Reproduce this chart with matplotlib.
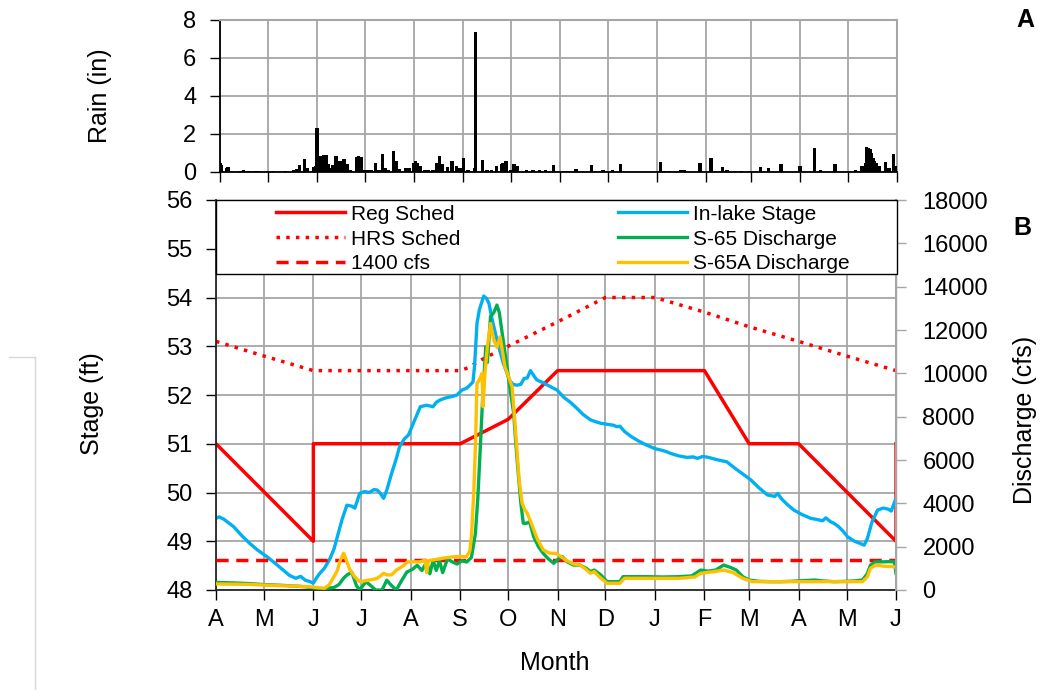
import matplotlib
matplotlib.use("Agg")
import matplotlib.pyplot as plt
from matplotlib.lines import Line2D
from matplotlib.patches import Rectangle

plt.rcParams['font.family'] = ['Liberation Sans', 'DejaVu Sans']

# x values are days counted from 1 April; month starts for the axis
month_starts = [0, 30, 61, 91, 122, 153, 183, 214, 244, 275, 306, 334, 365, 395, 426]
month_labels = ['A', 'M', 'J', 'J', 'A', 'S', 'O', 'N', 'D', 'J', 'F', 'M', 'A', 'M', 'J']

# daily rainfall (in)
rain_day = [0, 1, 4, 5, 13, 15, 18, 22, 24, 30, 33, 41, 46, 48, 50, 53, 55, 59, 60, 61,
            62, 63, 64, 65, 66, 67, 68, 70, 71, 73, 74, 75, 76, 77, 78, 80, 82, 86, 87, 88,
            89, 91, 93, 95, 98, 100, 102, 104, 106, 109, 111, 113, 117, 119, 122, 123, 124, 126, 129, 131,
            134, 136, 138, 140, 143, 146, 149, 151, 153, 156, 160, 161, 165, 168, 171, 174, 177, 178, 180, 183,
            185, 187, 193, 197, 201, 205, 210, 216, 218, 224, 234, 241, 247, 252, 277, 280, 283, 290, 292, 302,
            309, 316, 319, 324, 328, 333, 340, 345, 353, 365, 374, 378, 387, 400, 404, 406, 407, 408, 409, 410,
            411, 412, 413, 415, 419, 421, 424, 425]
rain_in = [0.45, 0.35, 0.2, 0.25, 0.07, 0.08, 0.07, 0.07, 0.06, 0.07, 0.07, 0.05, 0.12, 0.15, 0.35, 0.7, 0.2, 0.25, 0.3, 2.3,
           0.5, 0.85, 0.75, 0.88, 0.6, 0.9, 0.4, 0.2, 0.35, 0.85, 0.55, 0.6, 0.45, 0.6, 0.7, 0.4, 0.1, 0.8, 0.82, 0.75,
           0.8, 0.1, 0.08, 0.1, 0.5, 0.1, 0.93, 0.2, 0.1, 1.1, 0.58, 0.15, 0.2, 0.2, 0.5, 0.56, 0.45, 0.3, 0.1, 0.08,
           0.1, 0.45, 0.86, 0.4, 0.25, 0.56, 0.3, 0.2, 0.72, 0.1, 0.2, 7.35, 0.65, 0.1, 0.1, 0.3, 0.4, 0.45, 0.58, 0.1,
           0.4, 0.3, 0.1, 0.1, 0.1, 0.1, 0.39, 0.07, 0.07, 0.15, 0.35, 0.1, 0.1, 0.44, 0.53, 0.07, 0.07, 0.1, 0.1, 0.47,
           0.74, 0.25, 0.1, 0.07, 0.07, 0.07, 0.25, 0.2, 0.4, 0.3, 1.27, 0.1, 0.4, 0.1, 0.3, 0.5, 1.3, 1.25, 1.2, 1.0,
           0.75, 0.6, 0.5, 0.3, 0.55, 0.2, 0.97, 0.3]

# regulation schedules (ft)
reg_day = [0, 61, 61, 153, 183, 214, 306, 334, 365, 426, 426]
reg_ft = [51.0, 49.0, 51.0, 51.0, 51.5, 52.5, 52.5, 51.0, 51.0, 49.0, 51.0]
hrs_day = [0, 30, 61, 153, 158, 165, 172, 183, 214, 244, 275, 306, 334, 365, 395, 426]
hrs_ft = [53.1, 52.8, 52.5, 52.5, 52.56, 52.7, 52.82, 53.0, 53.5, 54.0, 54.0, 53.7, 53.4, 53.1, 52.8, 52.5]

# in-lake stage (ft)
stage_day = [0, 2, 5, 11, 16, 21, 26, 32, 37, 42, 46, 50, 53, 56, 59, 61, 63, 65, 68, 71.5,
             74, 76, 79, 82, 85, 87, 90, 93, 96, 99, 101, 103, 105, 107, 110, 113, 115, 118, 120.6, 124,
             128, 132, 136, 138, 140.5, 143, 145, 148, 151, 154, 157, 159, 161, 162, 163.5, 165, 167.7, 169.5, 171, 173,
             175, 177.5, 180, 184, 186, 188.6, 191, 193, 195, 197, 199, 201, 205, 209, 213.7, 218, 222, 226, 230, 234.6,
             238, 241, 245, 249, 251, 253, 256, 260, 265, 270, 275, 280, 282, 285, 290, 295, 299, 301.6, 305, 308.6,
             313, 317, 320, 325, 330, 335, 340, 345.5, 350, 352, 354, 358, 362, 367, 372.6, 376, 380, 382, 385, 387,
             390, 393, 395.7, 400, 404, 406, 408, 411, 414.5, 418, 421, 423, 424.5, 426]
stage_ft = [49.47, 49.5, 49.45, 49.3, 49.12, 48.96, 48.82, 48.68, 48.55, 48.41, 48.3, 48.24, 48.28, 48.2, 48.17, 48.14, 48.25, 48.34, 48.45, 48.65,
            48.85, 49.09, 49.45, 49.74, 49.72, 49.68, 49.98, 50.02, 50.0, 50.06, 50.05, 49.98, 49.88, 50.05, 50.39, 50.7, 50.94, 51.1, 51.18, 51.45,
            51.76, 51.79, 51.76, 51.85, 51.9, 51.93, 51.95, 51.97, 52.0, 52.1, 52.14, 52.2, 52.27, 52.6, 53.47, 53.75, 54.03, 53.98, 53.88, 53.55,
            53.27, 52.95, 52.65, 52.3, 52.22, 52.2, 52.22, 52.34, 52.35, 52.5, 52.4, 52.31, 52.25, 52.18, 52.1, 51.95, 51.85, 51.73, 51.6, 51.49,
            51.45, 51.42, 51.4, 51.38, 51.35, 51.36, 51.25, 51.15, 51.05, 50.97, 50.9, 50.86, 50.84, 50.8, 50.75, 50.72, 50.73, 50.7, 50.74, 50.72,
            50.68, 50.65, 50.63, 50.5, 50.38, 50.26, 50.1, 49.95, 49.92, 49.98, 49.88, 49.75, 49.64, 49.55, 49.47, 49.45, 49.42, 49.48, 49.4, 49.37,
            49.3, 49.2, 49.09, 49.0, 48.95, 48.92, 49.05, 49.4, 49.64, 49.68, 49.66, 49.62, 49.75, 49.88]

# S-65 discharge (cfs)
s65_day = [0, 10, 20, 30, 40, 50, 56, 61, 66, 70, 74, 77, 80, 82, 85, 88, 90, 92, 94, 97,
           100, 104, 107, 110, 113, 116, 119.6, 123, 126, 129, 132, 134, 136, 138, 140, 142, 145, 148, 151, 154,
           157, 160, 162.5, 164, 165.6, 167, 169, 170, 172, 174, 176, 177.5, 179, 182, 184, 186.5, 188, 189.7, 191, 192.5,
           194.5, 196.5, 199, 202, 205, 208, 211.6, 214, 217, 220, 224, 228, 232, 234.6, 237, 241, 245, 249, 253, 255,
           262, 270, 280, 290, 298, 303.6, 308, 313, 318, 322, 326, 330, 334, 340, 347, 354, 360, 365, 370, 375,
           380, 387, 395, 400, 405, 408, 410, 413, 418, 422, 425, 426]
s65_cfs = [350, 330, 300, 250, 220, 180, 150, 100, 50, 80, 120, 250, 550, 690, 830, 200, 0, 200, 380, 200,
           0, 0, 450, 200, 0, 400, 830, 950, 1140, 900, 1290, 750, 1370, 900, 1350, 800, 1430, 1300, 1200, 1350,
           1290, 1500, 2600, 4200, 6600, 8800, 11230, 10500, 12620, 12800, 13150, 12800, 12000, 10460, 9400, 8150, 6600, 5080, 4000, 3080,
           3080, 3150, 2460, 2000, 1690, 1450, 1230, 1400, 1540, 1300, 1150, 1150, 1000, 850, 920, 700, 385, 385, 385, 615,
           615, 615, 600, 615, 650, 920, 870, 920, 1150, 1050, 920, 615, 460, 400, 385, 385, 400, 420, 440, 460,
           420, 385, 400, 420, 460, 750, 1150, 1300, 1300, 1310, 1300, 770]

# S-65A discharge (cfs)
s65a_day = [0, 10, 20, 30, 40, 50, 58, 63, 68, 71, 73, 76, 78, 80, 82, 84, 87, 90, 93, 96,
            99, 101, 103, 105, 107, 110, 113, 117, 120, 124, 128, 131, 132, 133, 137, 141, 145, 150, 154, 157,
            159, 160, 161.5, 162.5, 163.5, 165, 166.7, 167.3, 168.5, 170, 172, 174, 176, 178, 181, 183.5, 185.5, 187, 188.7, 190,
            191.8, 193.5, 195, 198, 201, 205, 209, 213, 216, 219, 224, 228, 231, 234.6, 237, 240, 245, 253, 256, 270,
            290, 300, 303.6, 312, 318, 324, 330, 336, 345, 355, 365, 375, 385, 395, 405, 408, 410, 413, 418, 424,
            426]
s65a_cfs = [280, 270, 260, 230, 200, 180, 150, 120, 80, 250, 500, 900, 1400, 1700, 1300, 920, 600, 385, 420, 460,
            500, 540, 650, 770, 700, 700, 920, 1100, 1300, 1300, 1300, 1380, 800, 1350, 1400, 1450, 1500, 1540, 1540, 1540,
            1800, 2460, 4500, 6610, 9540, 9700, 10000, 8460, 10000, 11230, 12300, 11540, 11200, 11690, 10300, 9800, 9380, 8000, 6300, 5000,
            4000, 3700, 3540, 3000, 2400, 1850, 1700, 1690, 1550, 1380, 1200, 1150, 1000, 770, 850, 615, 310, 310, 540, 540,
            540, 600, 770, 850, 920, 800, 540, 385, 385, 385, 385, 385, 385, 385, 385, 600, 1000, 1150, 1100, 1080,
            1050]

threshold_cfs = 1400

RED = '#FF0000'
BLUE = '#00B0F0'
GREEN = '#00B050'
GOLD = '#FFC000'
GRID = '#A6A6A6'

fig = plt.figure(figsize=(10.43, 6.9), dpi=100)
W, H = 1043, 690

def px_axes(l, t, r, b):
    return [l / W, 1 - b / H, (r - l) / W, (b - t) / H]

# ---- panel A: rainfall
axr = fig.add_axes(px_axes(220, 20, 897, 172))
axr.bar(rain_day, rain_in, width=2.0, color='black', align='center', zorder=3)
axr.set_xlim(0, 426)
axr.set_ylim(0, 8)
axr.set_yticks([0, 2, 4, 6, 8])
axr.set_xticks(month_starts)
axr.set_xticklabels([])
axr.grid(True, color=GRID, linewidth=1.3, zorder=0)
axr.set_axisbelow(True)
axr.tick_params(axis='y', direction='out', length=7, width=1, labelsize=17, pad=10)
axr.tick_params(axis='x', direction='out', length=7, width=1)
for s in ['top', 'right']:
    axr.spines[s].set_color(GRID)
    axr.spines[s].set_linewidth(1.5)
for s in ['left', 'bottom']:
    axr.spines[s].set_color('black')
    axr.spines[s].set_linewidth(1.3)

# ---- panel B: stage and discharge
ax = fig.add_axes(px_axes(216, 200, 896, 590))
l_reg, = ax.plot(reg_day, reg_ft, color=RED, lw=2.5, label='Reg Sched')
l_hrs, = ax.plot(hrs_day, hrs_ft, color=RED, lw=2.5, linestyle=(0, (1, 1.8)), label='HRS Sched')
l_stage, = ax.plot(stage_day, stage_ft, color=BLUE, lw=2.4, label='In-lake Stage')
ax.set_xlim(0, 426)
ax.set_ylim(48, 56)
ax.set_yticks(range(48, 57))
ax.set_xticks(month_starts)
ax.set_xticklabels(month_labels)
ax.grid(True, color=GRID, linewidth=1.3, zorder=0)
ax.set_axisbelow(True)
ax.tick_params(axis='y', direction='out', length=7, width=1, labelsize=17, pad=10)
ax.tick_params(axis='x', direction='out', length=7, width=1, labelsize=17, pad=7)
for s in ['left', 'bottom']:
    ax.spines[s].set_color('#262626')
    ax.spines[s].set_linewidth(1.3)

ax2 = ax.twinx()
l_thr = ax2.axhline(threshold_cfs, color=RED, lw=2.5, linestyle=(0, (3.5, 2.2)), label='1400 cfs')
l_s65, = ax2.plot(s65_day, s65_cfs, color=GREEN, lw=2.4, label='S-65 Discharge')
l_s65a, = ax2.plot(s65a_day, s65a_cfs, color=GOLD, lw=2.4, label='S-65A Discharge')
ax2.set_ylim(0, 18000)
ax2.set_yticks(range(0, 18001, 2000))
ax2.tick_params(axis='y', direction='out', length=7, width=1, labelsize=17, pad=12, color=GRID)
ax2.spines['right'].set_color(GRID)
ax2.spines['right'].set_linewidth(1.5)
for s in ['left', 'bottom', 'top']:
    ax2.spines[s].set_visible(False)

# legend box across the top of panel B
box = Rectangle((0, 0.81), 1.0015, 0.19, transform=ax2.transAxes, facecolor='white',
                edgecolor='black', linewidth=1.0, zorder=5, clip_on=False)
ax2.add_patch(box)
leg_kw = dict(frameon=False, fontsize=15, handlelength=3.3, handletextpad=0.3,
              labelspacing=0.28, borderpad=0, borderaxespad=0, loc='upper left')
leg1 = ax2.legend(handles=[l_reg, l_hrs, l_thr], bbox_to_anchor=(0.088, 0.988), **leg_kw)
leg1.set_zorder(6)
ax2.add_artist(leg1)
leg2 = ax2.legend(handles=[l_stage, l_s65, l_s65a], bbox_to_anchor=(0.591, 0.988), **leg_kw)
leg2.set_zorder(6)

# labels
fig.text(100 / W, 1 - 96 / H, 'Rain (in)', rotation=90, ha='center', va='center', fontsize=18)
fig.text(92 / W, 1 - 404 / H, 'Stage (ft)', rotation=90, ha='center', va='center', fontsize=18)
fig.text(1025 / W, 1 - 420 / H, 'Discharge (cfs)', rotation=90, ha='center', va='center', fontsize=18)
fig.text(555 / W, 1 - 663 / H, 'Month', ha='center', va='center', fontsize=18)
fig.text(1025 / W, 1 - 20 / H, 'A', ha='center', va='center', fontsize=18, fontweight='bold')
fig.text(1022 / W, 1 - 228 / H, 'B', ha='center', va='center', fontsize=18, fontweight='bold')

# faint frame edge at left of the original image
fig.add_artist(Line2D([35 / W, 35 / W], [1 - 357 / H, 0], color='#D9D9D9', lw=1))
fig.add_artist(Line2D([9 / W, 35 / W], [1 - 357 / H, 1 - 357 / H], color='#D9D9D9', lw=1))

fig.savefig('out.png', dpi=100)
